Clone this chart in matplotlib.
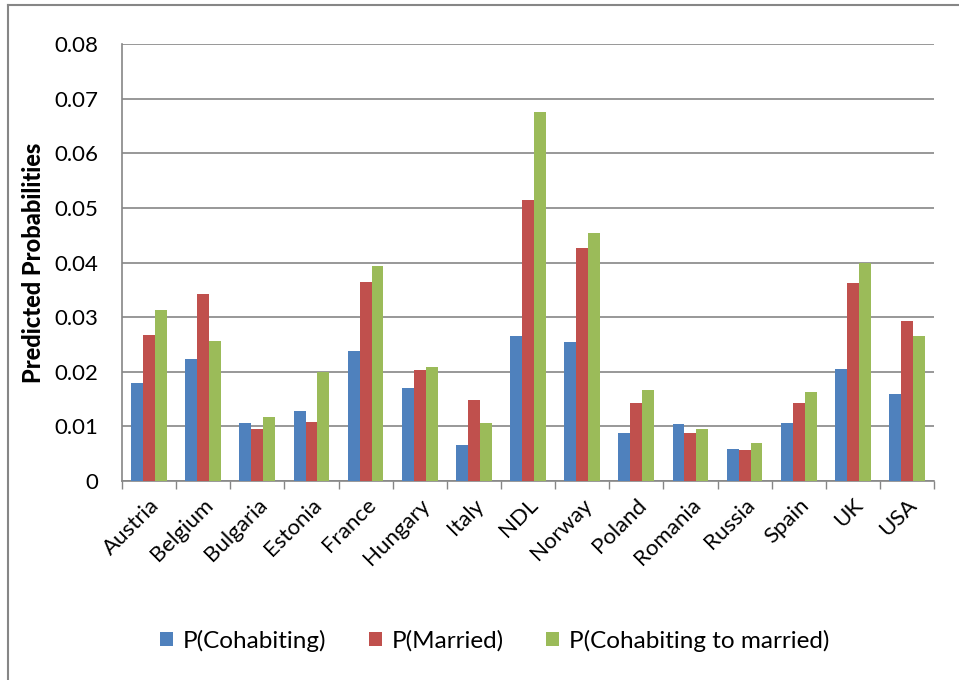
import matplotlib.pyplot as plt
import numpy as np

paises = ["Austria", "Belgium", "Bulgaria", "Estonia", "France", "Hungary", "Italy",
          "NDL", "Norway", "Poland", "Romania", "Russia", "Spain", "UK", "USA"]
p_cohab = [0.0180, 0.0224, 0.0107, 0.0128, 0.0239, 0.0170, 0.0066,
           0.0265, 0.0254, 0.0088, 0.0104, 0.0059, 0.0107, 0.0205, 0.0159]
p_married = [0.0268, 0.0343, 0.0096, 0.0108, 0.0364, 0.0203, 0.0149,
             0.0515, 0.0426, 0.0143, 0.0088, 0.0057, 0.0143, 0.0362, 0.0293]
p_cohab_married = [0.0313, 0.0257, 0.0117, 0.0199, 0.0393, 0.0209, 0.0106,
                   0.0676, 0.0455, 0.0166, 0.0095, 0.0069, 0.0163, 0.0400, 0.0266]
series_labels = ["P(Cohabiting)", "P(Married)", "P(Cohabiting to married)"]
cores = ["#4F81BD", "#C0504D", "#9BBB59"]

plt.rcParams["font.family"] = ["Lato", "DejaVu Sans"]

fig = plt.figure(figsize=(9.59, 6.80), dpi=100)
ax = fig.add_axes([0.1272, 0.2926, 0.974 - 0.1272, 0.935 - 0.2926])

x = np.arange(len(paises))
w = 0.22
for i, (vals, lab, c) in enumerate(zip([p_cohab, p_married, p_cohab_married], series_labels, cores)):
    ax.bar(x + (i - 1) * w, vals, width=w, color=c, label=lab, zorder=3)

ax.set_xlim(-0.5, len(paises) - 0.5)
ax.set_ylim(0, 0.08)
ax.set_yticks(np.arange(0, 0.081, 0.01))
ax.set_yticklabels(["0"] + [f"{v:.2f}" for v in np.arange(0.01, 0.081, 0.01)], fontsize=16)
ax.yaxis.grid(True, color="#868686", linewidth=1.2, zorder=0)
ax.tick_params(axis="y", length=0, pad=17)

ax.set_xticks(x)
ax.set_xticklabels(paises, rotation=45, ha="right", rotation_mode="anchor", fontsize=16)
ax.tick_params(axis="x", which="major", length=0, pad=10)
ax.set_xticks(np.arange(-0.5, len(paises), 1), minor=True)
ax.tick_params(axis="x", which="minor", length=6, color="#868686", width=1)

for s in ["top", "right"]:
    ax.spines[s].set_visible(False)
for s in ["left", "bottom"]:
    ax.spines[s].set_color("#868686")
    ax.spines[s].set_linewidth(1.2)

ax.set_ylabel("Predicted Probabilities", fontsize=17, fontweight="black", labelpad=7)

fig.legend(loc="center", bbox_to_anchor=(0.516, 0.058), ncol=3, frameon=False,
           fontsize=17.5, handlelength=0.53, handleheight=0.53, columnspacing=1.75,
           handletextpad=0.4)

# moldura externa
fig.add_artist(plt.Line2D([8 / 959, 8 / 959], [0, 1 - 5 / 680], color="#868686", lw=1.5))
fig.add_artist(plt.Line2D([8 / 959, 1], [1 - 5 / 680, 1 - 5 / 680], color="#868686", lw=1.5))

fig.savefig("out.png", dpi=100)
